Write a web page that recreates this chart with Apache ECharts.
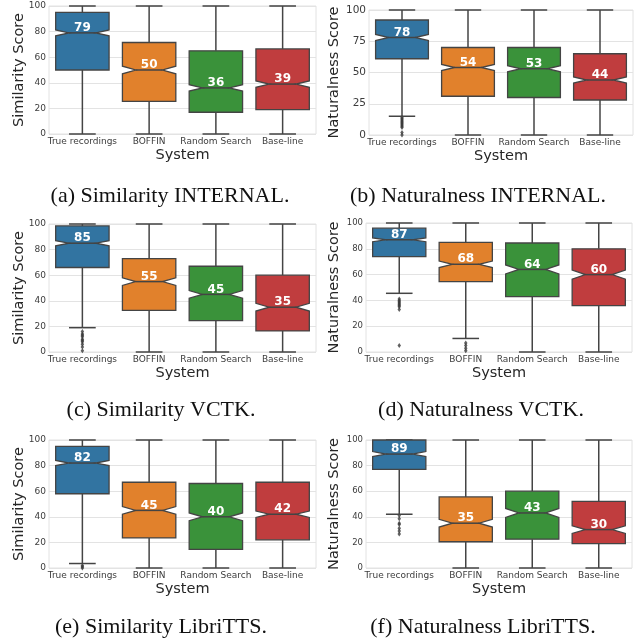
<!DOCTYPE html>
<html>
<head>
<meta charset="utf-8">
<script src="https://cdn.jsdelivr.net/npm/echarts@6/dist/echarts.min.js"></script>
<style>
  html, body { margin: 0; padding: 0; background: #fff; }
  #main { width: 641px; height: 642px; }
</style>
</head>
<body>
<div id="main"></div>
<script>
// categories and box colours (seaborn default, desaturated)
var categories = ['True recordings', 'BOFFIN', 'Random Search', 'Base-line'];
var boxColors = ['#3274a1', '#e1812c', '#3a923a', '#c03d3e'];

// (a) Similarity INTERNAL
var simIntLow = [0, 0, 0, 0];
var simIntQ1 = [50, 25.5, 17, 19];
var simIntMed = [79, 50, 36, 39];
var simIntQ3 = [95, 71.5, 65, 66.5];
var simIntHigh = [100, 100, 100, 100];
var simIntNotchLo = [76.7, 47, 33.5, 36.5];
var simIntNotchHi = [81.3, 53, 38.5, 41.5];
var simIntOut = [];

// (b) Naturalness INTERNAL
var natIntLow = [15, 0, 0, 0];
var natIntQ1 = [61, 31, 30, 28];
var natIntMed = [78, 54, 53, 44];
var natIntQ3 = [92, 70, 70, 65];
var natIntHigh = [100, 100, 100, 100];
var natIntNotchLo = [75.5, 51.5, 50.5, 41.5];
var natIntNotchHi = [80.5, 56.5, 55.5, 46.5];
var natIntOut = [[0, 14], [0, 13], [0, 12], [0, 11], [0, 10], [0, 9], [0, 8], [0, 7], [0, 6], [0, 2], [0, 0]];

// (c) Similarity VCTK
var simVctkLow = [19, 0, 0, 0];
var simVctkQ1 = [66, 32.5, 24.5, 16.5];
var simVctkMed = [85, 55, 45, 35];
var simVctkQ3 = [98.5, 73, 67, 60];
var simVctkHigh = [100, 100, 100, 100];
var simVctkNotchLo = [83, 52, 42, 32];
var simVctkNotchHi = [87, 58, 48, 38];
var simVctkOut = [[0, 16], [0, 14], [0, 13], [0, 12], [0, 10], [0, 9], [0, 8], [0, 6], [0, 4], [0, 1]];

// (d) Naturalness VCTK
var natVctkLow = [45.5, 10.5, 0, 0];
var natVctkQ1 = [74, 54.5, 43, 36];
var natVctkMed = [87, 68, 64, 60];
var natVctkQ3 = [96, 85, 84.5, 80];
var natVctkHigh = [100, 100, 100, 100];
var natVctkNotchLo = [85.5, 65.5, 60.5, 56.5];
var natVctkNotchHi = [88.5, 70.5, 67.5, 63.5];
var natVctkOut = [[0, 41], [0, 40], [0, 39], [0, 38], [0, 37], [0, 36], [0, 35], [0, 33], [0, 5],
                  [1, 7], [1, 5], [1, 3], [1, 1]];

// (e) Similarity LibriTTS
var simLibLow = [3.5, 0, 0, 0];
var simLibQ1 = [58, 23.5, 14.5, 22];
var simLibMed = [82, 45, 40, 42];
var simLibQ3 = [95, 67, 66, 67];
var simLibHigh = [100, 100, 100, 100];
var simLibNotchLo = [80, 42, 37, 39.5];
var simLibNotchHi = [84, 48, 43, 44.5];
var simLibOut = [[0, 2], [0, 1], [0, 0]];

// (f) Naturalness LibriTTS
var natLibLow = [42, 0, 0, 0];
var natLibQ1 = [77, 20.5, 22.5, 19];
var natLibMed = [89, 35, 43, 30];
var natLibQ3 = [100, 55.5, 60, 52];
var natLibHigh = [100, 100, 100, 100];
var natLibNotchLo = [87, 32, 39.5, 27];
var natLibNotchHi = [91, 38, 46.5, 33];
var natLibOut = [[0, 41], [0, 38.5], [0, 35], [0, 34], [0, 31], [0, 29], [0, 26.5]];

var yTickStep = [20, 25, 20, 20, 20, 20];
var yNames = ['Similarity Score', 'Naturalness Score', 'Similarity Score',
              'Naturalness Score', 'Similarity Score', 'Naturalness Score'];
var captions = ['(a) Similarity INTERNAL.', '(b) Naturalness INTERNAL.',
                '(c) Similarity VCTK.', '(d) Naturalness VCTK.',
                '(e) Similarity LibriTTS.', '(f) Naturalness LibriTTS.'];

var panels = [
  [simIntLow, simIntQ1, simIntMed, simIntQ3, simIntHigh, simIntNotchLo, simIntNotchHi, simIntOut],
  [natIntLow, natIntQ1, natIntMed, natIntQ3, natIntHigh, natIntNotchLo, natIntNotchHi, natIntOut],
  [simVctkLow, simVctkQ1, simVctkMed, simVctkQ3, simVctkHigh, simVctkNotchLo, simVctkNotchHi, simVctkOut],
  [natVctkLow, natVctkQ1, natVctkMed, natVctkQ3, natVctkHigh, natVctkNotchLo, natVctkNotchHi, natVctkOut],
  [simLibLow, simLibQ1, simLibMed, simLibQ3, simLibHigh, simLibNotchLo, simLibNotchHi, simLibOut],
  [natLibLow, natLibQ1, natLibMed, natLibQ3, natLibHigh, natLibNotchLo, natLibNotchHi, natLibOut]
];

// layout of the six axes (pixels)
var gridRects = [
  {left: 49, top: 6, width: 267, height: 128},
  {left: 369, top: 10, width: 264, height: 125},
  {left: 49, top: 224, width: 267, height: 128},
  {left: 366, top: 223, width: 266, height: 129},
  {left: 49, top: 440, width: 267, height: 128},
  {left: 366, top: 440, width: 266, height: 128}
];
var yLabelSize = [9, 10.5, 9, 8.5, 9, 8.5];
var yNameGap = [22, 27, 22, 24, 22, 24];
var captionPos = [[170, 196], [478, 196], [161, 410], [481, 410], [161, 627], [483, 627]];

var lineColor = '#444444';

function renderBox(params, api) {
  var x = api.value(0);
  var lo = api.value(1), q1 = api.value(2), med = api.value(3);
  var q3 = api.value(4), hi = api.value(5), nLo = api.value(6), nHi = api.value(7);
  var bw = api.size([1, 0])[0] * 0.8;
  var cx = api.coord([x, med])[0];
  var yLo = api.coord([x, lo])[1];
  var yQ1 = api.coord([x, q1])[1];
  var yMed = api.coord([x, med])[1];
  var yQ3 = api.coord([x, q3])[1];
  var yHi = api.coord([x, hi])[1];
  var yNLo = api.coord([x, nLo])[1];
  var yNHi = api.coord([x, nHi])[1];
  var L = cx - bw / 2, R = cx + bw / 2, nl = cx - bw / 4, nr = cx + bw / 4;
  var lineStyle = {stroke: lineColor, lineWidth: 1.5};
  return {
    type: 'group',
    children: [
      {type: 'line', shape: {x1: cx, y1: yLo, x2: cx, y2: yQ1}, style: lineStyle},
      {type: 'line', shape: {x1: cx, y1: yQ3, x2: cx, y2: yHi}, style: lineStyle},
      {type: 'line', shape: {x1: nl, y1: yLo, x2: nr, y2: yLo}, style: lineStyle},
      {type: 'line', shape: {x1: nl, y1: yHi, x2: nr, y2: yHi}, style: lineStyle},
      {
        type: 'polygon',
        shape: {points: [[L, yQ1], [R, yQ1], [R, yNLo], [nr, yMed], [R, yNHi], [R, yQ3],
                         [L, yQ3], [L, yNHi], [nl, yMed], [L, yNLo]]},
        style: {fill: boxColors[x], stroke: lineColor, lineWidth: 1.3}
      },
      {type: 'line', shape: {x1: nl, y1: yMed, x2: nr, y2: yMed}, style: {stroke: lineColor, lineWidth: 1.5}},
      {
        type: 'text', x: cx, y: yMed + 1,
        style: {text: String(Math.round(med)), fill: '#ffffff',
                font: 'bold 12px "DejaVu Sans"', align: 'center', verticalAlign: 'bottom'}
      }
    ]
  };
}

var grids = [], xAxes = [], yAxes = [], series = [], graphics = [];
panels.forEach(function (p, i) {
  var r = gridRects[i];
  grids.push({left: r.left, top: r.top, width: r.width, height: r.height,
              show: true, borderColor: '#e2e2e2', borderWidth: 1, backgroundColor: '#ffffff'});
  xAxes.push({
    type: 'category', gridIndex: i, data: categories,
    axisLine: {show: false}, axisTick: {show: false},
    axisLabel: {fontSize: 9, color: '#3c3c3c', margin: 3, fontFamily: 'DejaVu Sans', interval: 0},
    name: 'System', nameLocation: 'middle', nameGap: 14,
    nameTextStyle: {fontSize: 14.5, color: '#262626', fontFamily: 'DejaVu Sans'}
  });
  yAxes.push({
    type: 'value', gridIndex: i, min: 0, max: 100, interval: yTickStep[i],
    axisLine: {show: false}, axisTick: {show: false},
    splitLine: {lineStyle: {color: '#e3e3e3', width: 1}},
    axisLabel: {fontSize: yLabelSize[i], color: '#3c3c3c', margin: 3, fontFamily: 'DejaVu Sans'},
    name: yNames[i], nameLocation: 'middle', nameGap: yNameGap[i], nameMoveOverlap: false,
    nameTextStyle: {fontSize: 14.5, color: '#262626', fontFamily: 'DejaVu Sans'}
  });
  var data = categories.map(function (c, k) {
    return [k, p[0][k], p[1][k], p[2][k], p[3][k], p[4][k], p[5][k], p[6][k]];
  });
  series.push({
    type: 'custom', xAxisIndex: i, yAxisIndex: i,
    renderItem: renderBox, data: data,
    encode: {x: 0, y: [1, 2, 3, 4, 5, 6, 7]}, z: 3
  });
  series.push({
    type: 'scatter', xAxisIndex: i, yAxisIndex: i, data: p[7],
    symbol: 'diamond', symbolSize: [3.5, 5],
    itemStyle: {color: '#3a3a3a'}, z: 2, silent: true
  });
  graphics.push({
    type: 'text', x: captionPos[i][0], y: captionPos[i][1],
    style: {text: captions[i], fill: '#111111', font: '22px "Liberation Serif"',
            align: 'center', verticalAlign: 'middle'}
  });
});

var myChart = echarts.init(document.getElementById('main'));
myChart.setOption({
  animation: false,
  grid: grids,
  xAxis: xAxes,
  yAxis: yAxes,
  series: series,
  graphic: graphics
});
</script>
</body>
</html>
